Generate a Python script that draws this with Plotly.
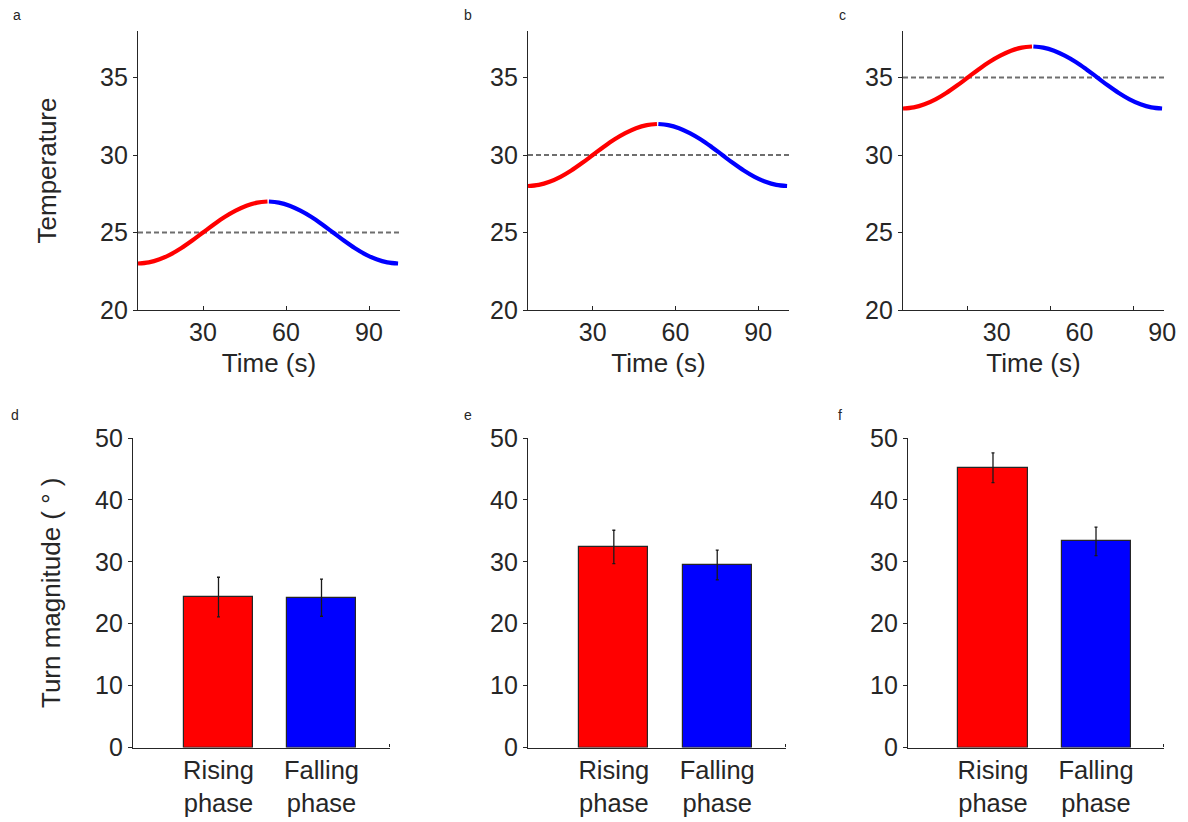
import plotly.graph_objects as go

# ---------------- data ----------------
# Temperature protocol: rising half (red) and falling half (blue), per panel
time_rising = [6.5, 10.4, 14.3, 18.3, 22.2, 26.1, 30.0, 33.9, 37.8, 41.8, 45.7, 49.6, 53.3]
time_falling = [53.8, 57.4, 61.3, 65.2, 69.2, 73.1, 77.0, 80.9, 84.8, 88.7, 92.7, 96.6, 100.5]

temp_rising_a = [23.0, 23.07, 23.27, 23.59, 24.0, 24.48, 25.0, 25.52, 26.0, 26.41, 26.73, 26.93, 27.0]
temp_falling_a = [27.0, 26.93, 26.73, 26.41, 26.0, 25.52, 25.0, 24.48, 24.0, 23.59, 23.27, 23.07, 23.0]
temp_rising_b = [28.0, 28.07, 28.27, 28.59, 29.0, 29.48, 30.0, 30.52, 31.0, 31.41, 31.73, 31.93, 32.0]
temp_falling_b = [32.0, 31.93, 31.73, 31.41, 31.0, 30.52, 30.0, 29.48, 29.0, 28.59, 28.27, 28.07, 28.0]
temp_rising_c = [33.0, 33.07, 33.27, 33.59, 34.0, 34.48, 35.0, 35.52, 36.0, 36.41, 36.73, 36.93, 37.0]
temp_falling_c = [37.0, 36.93, 36.73, 36.41, 36.0, 35.52, 35.0, 34.48, 34.0, 33.59, 33.27, 33.07, 33.0]
mean_temp = [25, 30, 35]

time_ticks = [30, 60, 90]
temp_ticks = [20, 25, 30, 35]

# Turn magnitude (mean ± s.e.m.) for rising / falling phase
phase_labels = ["Rising<br>phase", "Falling<br>phase"]
turn_d = [24.3, 24.2]
err_d = [3.2, 3.0]
turn_e = [32.4, 29.5]
err_e = [2.7, 2.4]
turn_f = [45.2, 33.3]
err_f = [2.4, 2.3]
turn_ticks = [0, 10, 20, 30, 40, 50]

panel_letters = ["a", "b", "c", "d", "e", "f"]

# ---------------- style ----------------
FONT = "Liberation Sans, Arial, sans-serif"
INK = "#262626"
RED = "#ff0000"
BLUE = "#0000ff"

W, H = 1188, 822


def px_x(p):
    return p / W


def px_y(p):
    return 1 - p / H


fig = go.Figure()

top_domains_x = [(138, 400), (528, 789), (903, 1164)]
top_domain_y = (px_y(310), px_y(31))
bot_domains_x = [(133, 390), (528, 786), (908, 1164)]
bot_domain_y = (px_y(747.5), px_y(438))

rising_sets = [temp_rising_a, temp_rising_b, temp_rising_c]
falling_sets = [temp_falling_a, temp_falling_b, temp_falling_c]

for i in range(3):
    xa = "x" if i == 0 else f"x{i + 1}"
    ya = "y" if i == 0 else f"y{i + 1}"
    # reference (mean) temperature, dashed
    fig.add_trace(go.Scatter(
        x=[6.5, 101.2], y=[mean_temp[i], mean_temp[i]], mode="lines",
        line=dict(color="#6e6e6e", width=1.8, dash="5px,3px"),
        xaxis=xa, yaxis=ya, showlegend=False, hoverinfo="skip"))
    fig.add_trace(go.Scatter(
        x=time_rising, y=rising_sets[i], mode="lines",
        line=dict(color=RED, width=4.2, shape="spline"),
        xaxis=xa, yaxis=ya, showlegend=False))
    fig.add_trace(go.Scatter(
        x=time_falling, y=falling_sets[i], mode="lines",
        line=dict(color=BLUE, width=4.2, shape="spline"),
        xaxis=xa, yaxis=ya, showlegend=False))

turn_sets = [turn_d, turn_e, turn_f]
err_sets = [err_d, err_e, err_f]
for i in range(3):
    xa = f"x{i + 4}"
    ya = f"y{i + 4}"
    fig.add_trace(go.Bar(
        x=[1, 2], y=turn_sets[i], width=0.67,
        marker=dict(color=[RED, BLUE], line=dict(color=INK, width=1.2)),
        error_y=dict(type="data", array=err_sets[i], color="#1a1a1a",
                     thickness=1.3, width=1.5),
        xaxis=xa, yaxis=ya, showlegend=False))

axis_common = dict(
    showline=True, linecolor=INK, linewidth=1.3, showgrid=False,
    zeroline=False, tickcolor=INK, tickwidth=1.2, automargin=False,
    tickfont=dict(family=FONT, size=25, color=INK),
    mirror=False,
)

layout = dict(
    template="none",
    width=W, height=H, margin=dict(l=0, r=0, t=0, b=0, pad=0),
    plot_bgcolor="white", paper_bgcolor="white",
    font=dict(family=FONT, color=INK),
    bargap=0,
)

for i in range(3):
    xk = "xaxis" if i == 0 else f"xaxis{i + 1}"
    yk = "yaxis" if i == 0 else f"yaxis{i + 1}"
    ya = "y" if i == 0 else f"y{i + 1}"
    xa = "x" if i == 0 else f"x{i + 1}"
    x0, x1 = top_domains_x[i]
    layout[xk] = dict(
        axis_common, domain=[px_x(x0), px_x(x1)], anchor=ya,
        range=[6.5, 101.2], tickvals=time_ticks, ticks="inside", ticklen=4,
        ticklabelshift=29 if i == 2 else 0,
        title=dict(text="Time (s)", font=dict(family=FONT, size=26, color=INK),
                   standoff=8),
    )
    layout[yk] = dict(
        axis_common, domain=list(top_domain_y), anchor=xa,
        range=[20, 38], tickvals=temp_ticks, ticks="outside", ticklen=4,
        title=dict(text="Temperature" if i == 0 else "",
                   font=dict(family=FONT, size=26, color=INK), standoff=35),
    )

for i in range(3):
    xk = f"xaxis{i + 4}"
    yk = f"yaxis{i + 4}"
    x0, x1 = bot_domains_x[i]
    rng = [0.17, 2.665] if i < 2 else [0.175, 2.66]
    layout[xk] = dict(
        axis_common, domain=[px_x(x0), px_x(x1)], anchor=f"y{i + 4}",
        range=rng, tickvals=[1, 2], ticktext=phase_labels, ticks="",
        tickfont=dict(family=FONT, size=25.5, color=INK),
        minor=dict(tickvals=[rng[1] - 0.005], ticks="inside", ticklen=3,
                   tickcolor=INK, tickwidth=1.2),
    )
    layout[yk] = dict(
        axis_common, domain=list(bot_domain_y), anchor=f"x{i + 4}",
        range=[0, 50], tickvals=turn_ticks, ticks="outside", ticklen=4,
        title=dict(text="Turn magnitude ( ° )" if i == 0 else "",
                   font=dict(family=FONT, size=26, color=INK), standoff=26),
    )

fig.update_layout(**layout)

# panel letters
letter_pos = [(17, 15), (468, 15), (842, 15), (15, 415), (468, 415), (840, 415)]
for letter, (lx, ly) in zip(panel_letters, letter_pos):
    fig.add_annotation(
        x=px_x(lx), y=px_y(ly), xref="paper", yref="paper", text=letter,
        showarrow=False, xanchor="center", yanchor="middle",
        font=dict(family=FONT, size=14, color=INK))

fig.write_html("out.html")
